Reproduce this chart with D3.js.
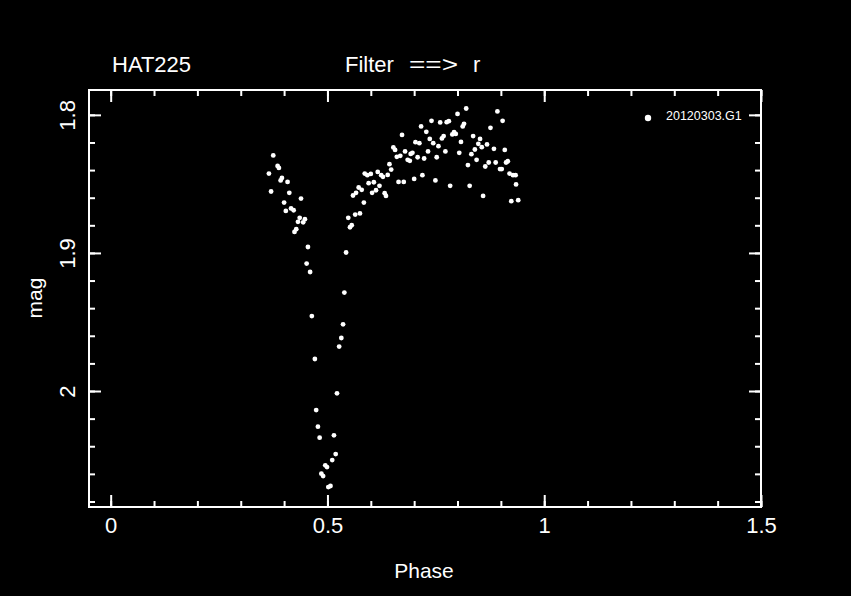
<!DOCTYPE html>
<html>
<head>
<meta charset="utf-8">
<script src="https://cdn.jsdelivr.net/npm/d3@7"></script>
<style>
  body { margin: 0; background: #000; }
  svg { display: block; }
  text { font-family: "Liberation Sans", Arial, sans-serif; fill: #fff; }
</style>
</head>
<body>
<svg id="chart"></svg>
<script>
// light curve points (phase, r mag)
var phase = [
  0.375, 0.385, 0.388, 0.365, 0.395, 0.392, 0.408, 0.370, 0.412, 0.439,
  0.400, 0.416, 0.422, 0.404, 0.436, 0.448, 0.432, 0.444, 0.428, 0.424,
  0.455, 0.452, 0.460, 0.464, 0.471, 0.474, 0.478, 0.482, 0.486, 0.490,
  0.495, 0.499, 0.502, 0.507, 0.511, 0.519, 0.515, 0.522, 0.527, 0.532,
  0.536, 0.539, 0.543, 0.552, 0.556, 0.548, 0.564, 0.575, 0.584, 0.559,
  0.566, 0.572, 0.579, 0.595, 0.607, 0.603, 0.612, 0.620, 0.632, 0.635,
  0.586, 0.592, 0.600, 0.616, 0.624, 0.628, 0.639, 0.643, 0.647, 0.652,
  0.656, 0.660, 0.668, 0.664, 0.676, 0.679, 0.672, 0.685, 0.690, 0.692,
  0.696, 0.700, 0.703, 0.712, 0.708, 0.716, 0.719, 0.723, 0.728, 0.732,
  0.736, 0.740, 0.744, 0.749, 0.752, 0.756, 0.760, 0.764, 0.768, 0.772,
  0.775, 0.780, 0.783, 0.788, 0.792, 0.796, 0.800, 0.804, 0.808, 0.812,
  0.815, 0.820, 0.824, 0.828, 0.832, 0.836, 0.840, 0.844, 0.848, 0.852,
  0.856, 0.859, 0.864, 0.868, 0.872, 0.876, 0.884, 0.888, 0.892, 0.898,
  0.902, 0.904, 0.909, 0.912, 0.916, 0.920, 0.928, 0.934, 0.935, 0.924,
  0.940
];
var mag = [
  1.8294, 1.8370, 1.8384, 1.8425, 1.8457, 1.8475, 1.8486, 1.8555, 1.8565, 1.8606,
  1.8635, 1.8678, 1.8691, 1.8696, 1.8746, 1.8756, 1.8775, 1.8778, 1.8828, 1.8848,
  1.8957, 1.9077, 1.9138, 1.9457, 1.9768, 2.0138, 2.0258, 2.0338, 2.0599, 2.0616,
  2.0538, 2.0551, 2.0696, 2.0688, 2.0500, 2.0457, 2.0321, 2.0017, 1.9678, 1.9616,
  1.9517, 1.9287, 1.8997, 1.8814, 1.8799, 1.8746, 1.8722, 1.8714, 1.8635, 1.8584,
  1.8565, 1.8526, 1.8543, 1.8495, 1.8488, 1.8565, 1.8546, 1.8514, 1.8567, 1.8587,
  1.8425, 1.8437, 1.8428, 1.8413, 1.8437, 1.8449, 1.8435, 1.8357, 1.8396, 1.8236,
  1.8254, 1.8304, 1.8297, 1.8486, 1.8486, 1.8265, 1.8145, 1.8326, 1.8333, 1.8283,
  1.8275, 1.8464, 1.8198, 1.8205, 1.8307, 1.8084, 1.8437, 1.8316, 1.8123, 1.8265,
  1.8174, 1.8043, 1.8205, 1.8475, 1.8307, 1.8227, 1.8055, 1.8171, 1.8154, 1.8265,
  1.8053, 1.8046, 1.8514, 1.8142, 1.8125, 1.8138, 1.7993, 1.8275, 1.8196, 1.8084,
  1.8065, 1.7954, 1.8364, 1.8514, 1.8285, 1.8154, 1.8251, 1.8326, 1.8210, 1.8174,
  1.8234, 1.8587, 1.8374, 1.8214, 1.8345, 1.8094, 1.8246, 1.8345, 1.7975, 1.8393,
  1.8393, 1.8043, 1.8254, 1.8345, 1.8336, 1.8425, 1.8437, 1.8437, 1.8504, 1.8625,
  1.8618
];
var xMajor = [0, 0.5, 1, 1.5];
var yMajor = [1.8, 1.9, 2];
var titleText = "HAT225";
var filterText = ["Filter", "==>", "r"];
var legendLabel = "20120303.G1";

var W = 851, H = 596;
var box = { left: 89, right: 761, top: 90, bottom: 507 };

var svg = d3.select("#chart").attr("width", W).attr("height", H);
svg.append("rect").attr("width", W).attr("height", H).attr("fill", "#000");

var x = d3.scaleLinear().domain([-0.05, 1.5]).range([box.left, box.right]);
var y = d3.scaleLinear().domain([1.782, 2.084]).range([box.top, box.bottom]);

var xMinor = d3.range(0, 16).map(function (i) { return i / 10; });
var yMinor = d3.range(0, 15).map(function (i) { return +(1.8 + i * 0.02).toFixed(2); });

function style(g) {
  g.select(".domain").remove();
  g.selectAll("line").attr("stroke", "#fff").attr("stroke-width", 2);
}

// bottom axis
svg.append("g").attr("transform", "translate(0," + box.bottom + ")")
  .call(d3.axisBottom(x).tickValues(xMinor).tickSize(-6).tickFormat(""))
  .call(style);
var bx = svg.append("g").attr("transform", "translate(0," + box.bottom + ")")
  .call(d3.axisBottom(x).tickValues(xMajor).tickSize(-12).tickFormat(function (d) { return d; }))
  .call(style);
bx.selectAll("text").attr("y", 26).attr("dy", 0).style("font-size", "22px").attr("fill", "#fff");

// top axis
svg.append("g").attr("transform", "translate(0," + box.top + ")")
  .call(d3.axisTop(x).tickValues(xMinor).tickSize(-6).tickFormat(""))
  .call(style);
svg.append("g").attr("transform", "translate(0," + box.top + ")")
  .call(d3.axisTop(x).tickValues(xMajor).tickSize(-12).tickFormat(""))
  .call(style);

// left axis
svg.append("g").attr("transform", "translate(" + box.left + ",0)")
  .call(d3.axisLeft(y).tickValues(yMinor).tickSize(-6).tickFormat(""))
  .call(style);
var ly = svg.append("g").attr("transform", "translate(" + box.left + ",0)")
  .call(d3.axisLeft(y).tickValues(yMajor).tickSize(-12).tickFormat(function (d) { return d; }))
  .call(style);
ly.selectAll("text")
  .attr("x", 0).attr("dy", 0)
  .attr("text-anchor", "middle")
  .attr("transform", "translate(-14,0) rotate(-90)")
  .style("font-size", "22px").attr("fill", "#fff");

// right axis
svg.append("g").attr("transform", "translate(" + box.right + ",0)")
  .call(d3.axisRight(y).tickValues(yMinor).tickSize(-6).tickFormat(""))
  .call(style);
svg.append("g").attr("transform", "translate(" + box.right + ",0)")
  .call(d3.axisRight(y).tickValues(yMajor).tickSize(-12).tickFormat(""))
  .call(style);

// frame
svg.append("rect")
  .attr("x", box.left).attr("y", box.top)
  .attr("width", box.right - box.left).attr("height", box.bottom - box.top)
  .attr("fill", "none").attr("stroke", "#fff").attr("stroke-width", 2);

// points
svg.append("g").selectAll("circle")
  .data(phase)
  .enter()
  .append("circle")
  .attr("cx", function (d) { return x(d); })
  .attr("cy", function (d, i) { return y(mag[i]); })
  .attr("r", 2.4)
  .attr("fill", "#fff");

// titles
svg.append("text").attr("x", 112).attr("y", 72).style("font-size", "22px").text(titleText);
var ft = svg.append("text").attr("y", 72).style("font-size", "22px");
ft.append("tspan").attr("x", 345).text(filterText[0]);
ft.append("tspan").attr("x", 409).attr("textLength", 49)
  .attr("lengthAdjust", "spacingAndGlyphs").text(filterText[1]);
ft.append("tspan").attr("x", 473).text(filterText[2]);

// axis titles
svg.append("text").attr("x", 424).attr("y", 578)
  .attr("text-anchor", "middle").style("font-size", "21px").text("Phase");
svg.append("text")
  .attr("transform", "translate(42,298) rotate(-90)")
  .attr("text-anchor", "middle").style("font-size", "21px").text("mag");

// legend
svg.append("circle").attr("cx", 648).attr("cy", 118).attr("r", 3.2).attr("fill", "#fff");
svg.append("text").attr("x", 666).attr("y", 119.5).style("font-size", "12.5px").text(legendLabel);
</script>
</body>
</html>
